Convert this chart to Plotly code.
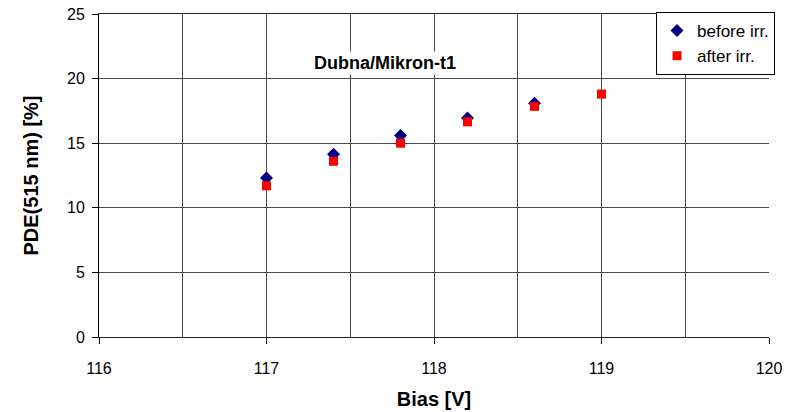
import plotly.graph_objects as go

bias_before = [117.0, 117.4, 117.8, 118.2, 118.6]
pde_before = [12.3, 14.15, 15.6, 16.95, 18.1]
bias_after = [117.0, 117.4, 117.8, 118.2, 118.6, 119.0]
pde_after = [11.7, 13.6, 15.0, 16.65, 17.85, 18.8]

x_ticks = [116, 117, 118, 119, 120]
y_ticks = [0, 5, 10, 15, 20, 25]

fig = go.Figure()
fig.add_trace(go.Scatter(x=bias_before, y=pde_before, mode="markers", name="before irr.",
                         marker=dict(symbol="diamond", size=10, color="#000080")))
fig.add_trace(go.Scatter(x=bias_after, y=pde_after, mode="markers", name="after irr.",
                         marker=dict(symbol="square", size=9, color="#ff0000")))

font = "Liberation Sans, Arial, sans-serif"
fig.update_layout(
    width=802, height=412,
    margin=dict(l=98.5, r=33, t=14, b=75, autoexpand=False),
    paper_bgcolor="white", plot_bgcolor="white",
    font=dict(family=font, size=16, color="black"),
    showlegend=True,
    legend=dict(x=1.009, y=1.006, xanchor="right", yanchor="top",
                bgcolor="white", bordercolor="black", borderwidth=1,
                font=dict(size=17), tracegroupgap=0, itemwidth=30),
    xaxis=dict(range=[116, 120], tickvals=x_ticks, showgrid=True, gridcolor="#4a4a4a", gridwidth=1,
               minor=dict(dtick=0.5, showgrid=True, gridcolor="#4a4a4a", gridwidth=1),
               showline=True, linecolor="#222222", linewidth=1, mirror=True,
               ticks="outside", ticklen=6,
               tickcolor="black", zeroline=False, tickfont=dict(size=16),
               ticklabelstandoff=11,
               title=dict(text="<b>Bias [V]</b>", font=dict(size=20), standoff=15)),
    yaxis=dict(range=[0, 25], tickvals=y_ticks, showgrid=True, gridcolor="#4a4a4a", gridwidth=1,
               showline=True, linecolor="black", linewidth=1, ticks="outside", ticklen=6,
               tickcolor="black", zeroline=False, tickfont=dict(size=16),
               ticklabelstandoff=4,
               title=dict(text="<b>PDE(515 nm) [%]</b>", font=dict(size=20), standoff=23)),
    annotations=[dict(text="<b>Dubna/Mikron-t1</b>", x=117.71, y=21.2, xref="x", yref="y",
                      showarrow=False, bgcolor="white", font=dict(size=18))],
)

# remove the default 8px page margin so the figure fills the window exactly
fig.write_html("out.html", config={"displayModeBar": False},
               post_script="document.body.style.margin='0';")
